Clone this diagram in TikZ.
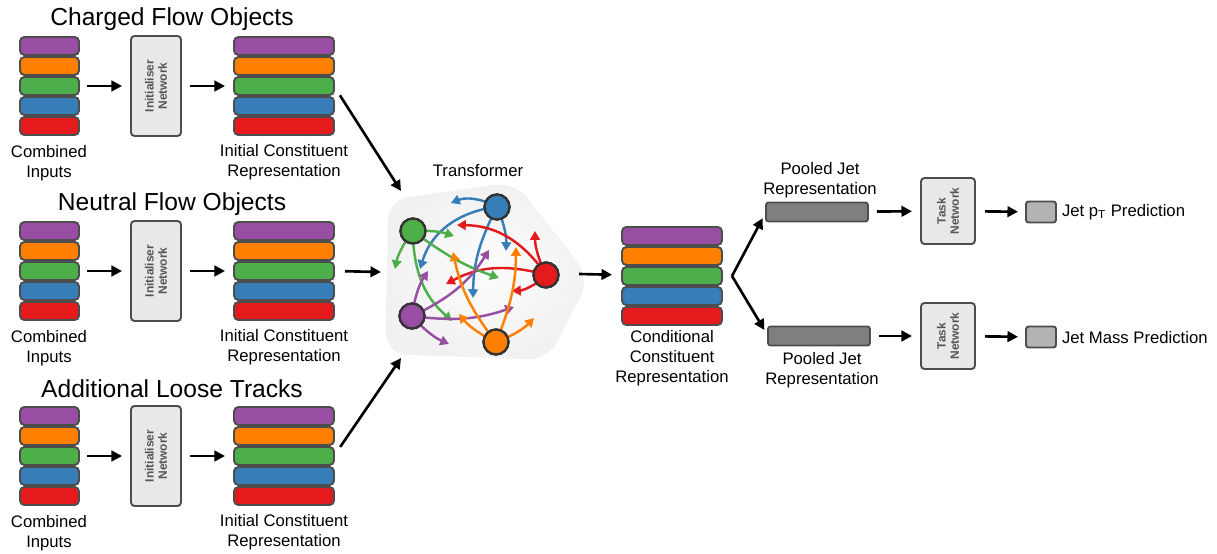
\documentclass[tikz,border=0pt]{standalone}
\usepackage{fontspec}
\setmainfont{Liberation Sans}
\usetikzlibrary{arrows.meta,positioning}
\definecolor{cpurple}{HTML}{984EA3}
\definecolor{corange}{HTML}{FF7F00}
\definecolor{cgreen}{HTML}{4DAF4A}
\definecolor{cblue}{HTML}{377EB8}
\definecolor{cred}{HTML}{E41A1C}
\definecolor{edgegray}{HTML}{4D4D4D}
\definecolor{boxgray}{HTML}{E8E8E8}
\definecolor{poolgray}{HTML}{7F7F7F}
\definecolor{outgray}{HTML}{B3B3B3}
\definecolor{netgray}{HTML}{555555}
\begin{document}
\begin{tikzpicture}[x=0.02cm, y=-0.02cm,
		every node/.style = {inner sep=0pt, outer sep=0pt},
		lbl/.style = {font=\fontsize{9.5}{11.3}\selectfont, align=center},
		grouptitle/.style = {font=\fontsize{14}{16}\selectfont},
		row/.style = {draw=edgegray, line width=1.1pt, rounded corners=2.5pt,
			fill=#1, minimum height=0.36cm},
		netbox/.style = {draw=edgegray, line width=1.1pt, rounded corners=2pt,
			fill=boxgray, rotate=90, align=center, text=netgray,
			font=\fontsize{6.8}{7.6}\selectfont\bfseries},
		flat/.style = {draw=edgegray, line width=1.1pt, rounded corners=1.5pt, fill=#1},
		arr/.style = {-{Triangle[length=6pt,width=6pt]}, line width=1.5pt},
		att/.style = {-{Triangle[length=5pt,width=5.5pt]}, line width=1.4pt, draw=#1},
		tok/.style = {circle, draw=black!80, line width=1.3pt, fill=#1, minimum size=0.5cm}]
	\useasboundingbox (0,0) rectangle (1217,554);

	% three input branches
	\foreach \g/\dy/\name in {0/0/Charged Flow Objects, 1/185/Neutral Flow Objects, 2/370/Additional Loose Tracks} {
		\node[grouptitle] (title\g) at (172,19+\dy) {\name};
		\foreach \c [count=\i] in {cpurple,corange,cgreen,cblue,cred} {
			\node[row=\c, minimum width=1.18cm] (in\g-\i) at (49.5,26+20*\i+\dy) {};
			\node[row=\c, minimum width=2cm] (rep\g-\i) at (284,26+20*\i+\dy) {};
		}
		\node[netbox, minimum width=2cm, minimum height=1cm] (init\g) at (156,86+\dy) {Initialiser\\Network};
		\node[lbl] (inlbl\g) at (49,163+\dy) {Combined\\Inputs};
		\node[lbl] (replbl\g) at (284,162+\dy) {Initial Constituent\\Representation};
		\draw[arr, shorten <=0.16cm, shorten >=0.18cm] (in\g-3) -- (init\g);
		\draw[arr, shorten <=0.18cm, shorten >=0.18cm] (init\g) -- (rep\g-3);
	}

	% transformer
	\shade[inner color=gray!2, outer color=gray!11, rounded corners=0.4cm]
		(388,200) -- (515,182) -- (590,278) -- (548,360) -- (386,354) -- cycle;
	\node[lbl] (tflbl) at (478,171) {Transformer};
	\coordinate (tin0) at (401,191);
	\coordinate (tin1) at (381,272);
	\coordinate (tin2) at (401,358);
	\coordinate (tout) at (579,274);
	\draw[arr, shorten <=0.22cm] (rep0-3.east) -- (tin0);
	\draw[arr, shorten <=0.22cm] (rep1-3.east) -- (tin1);
	\draw[arr, shorten <=0.22cm] (rep2-3.east) -- (tin2);

	\node[tok=cblue] (tb) at (497,207) {};
	\node[tok=cgreen] (tg) at (413,231) {};
	\node[tok=cred] (tr) at (546,275) {};
	\node[tok=cpurple] (tp) at (412,316) {};
	\node[tok=corange] (to) at (496,342) {};
	% attention arrows
	\draw[att=cblue] (tb) to[bend right=20] (451,203);
	\draw[att=cblue] (tb) to[bend left=10] (506,251);
	\draw[att=cblue] (tb) to[bend right=30] (420,269);
	\draw[att=cblue] (tb) to[bend right=12] (473,298);
	\draw[att=cred] (tr) to[bend left=10] (535,231);
	\draw[att=cred] (tr) to[bend right=25] (457,225);
	\draw[att=cred] (tr) to[bend right=20] (446,284);
	\draw[att=cred] (tr) to[bend left=15] (512,291);
	\draw[att=cgreen] (tg) to[bend left=8] (454,236);
	\draw[att=cgreen] (tg) to[bend right=10] (395,269);
	\draw[att=cgreen] (tg) to[bend right=8] (499,278);
	\draw[att=cgreen] (tg) to[bend right=22] (452,321);
	\draw[att=cpurple] (tp) to[bend right=15] (489,250);
	\draw[att=cpurple] (tp) to[bend left=10] (428,271);
	\draw[att=cpurple] (tp) to[bend right=12] (514,307);
	\draw[att=cpurple] (tp) to[bend right=10] (449,344);
	\draw[att=corange] (to) to[bend left=12] (453,252);
	\draw[att=corange] (to) to[bend right=10] (516,247);
	\draw[att=corange] (to) to[bend left=10] (459,314);
	\draw[att=corange] (to) to[bend right=10] (534,318);
	% redraw tokens above the arrows
	\foreach \t/\c in {tb/cblue, tg/cgreen, tr/cred, tp/cpurple, to/corange}
		\node[tok=\c] at (\t) {};

	% conditional representation
	\foreach \c [count=\i] in {cpurple,corange,cgreen,cblue,cred}
		\node[row=\c, minimum width=2cm] (cond-\i) at (672,216+20*\i) {};
	\node[lbl] (condlbl) at (672,358) {Conditional\\Constituent\\Representation};
	\draw[arr, shorten >=0.2cm] (tout) -- (cond-3);

	% heads
	\coordinate (fork) at (732,276);
	\node[flat=poolgray, minimum width=2.04cm, minimum height=0.38cm] (pool1) at (817,212) {};
	\node[flat=poolgray, minimum width=2.04cm, minimum height=0.38cm] (pool2) at (819,336) {};
	\node[lbl] (poollbl1) at (820,180) {Pooled Jet\\Representation};
	\node[lbl] (poollbl2) at (822,370) {Pooled Jet\\Representation};
	\draw[arr, shorten >=0.14cm] (fork) -- (pool1.west);
	\draw[arr, shorten >=0.14cm] (fork) -- (pool2.west);
	\node[netbox, minimum width=1.32cm, minimum height=1.08cm] (task1) at (948,211) {Task\\Network};
	\node[netbox, minimum width=1.32cm, minimum height=1.08cm] (task2) at (948,336) {Task\\Network};
	\node[flat=outgray, minimum width=0.6cm, minimum height=0.42cm] (out1) at (1041,212) {};
	\node[flat=outgray, minimum width=0.6cm, minimum height=0.42cm] (out2) at (1041,337) {};
	\node[lbl, anchor=west] (outlbl1) at (1062,212) {Jet p\textsubscript{T} Prediction};
	\node[lbl, anchor=west] (outlbl2) at (1062,338) {Jet Mass Prediction};
	\foreach \k in {1,2} {
		\draw[arr, shorten <=0.18cm, shorten >=0.18cm] (pool\k) -- (task\k);
		\draw[arr, shorten <=0.2cm, shorten >=0.16cm] (task\k) -- (out\k);
	}
\end{tikzpicture}
\end{document}
